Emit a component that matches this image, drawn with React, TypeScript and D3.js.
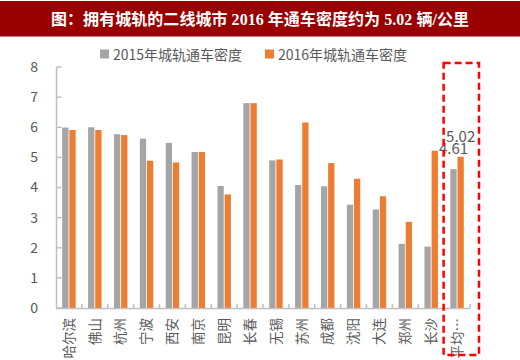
import React, { useEffect, useRef } from 'react';
import * as d3 from 'd3';

const cities = ['哈尔滨', '佛山', '杭州', '宁波', '西安', '南京', '昆明', '长春', '无锡', '苏州', '成都', '沈阳', '大连', '郑州', '长沙', '平均…'];
const density2015 = [5.99, 6.0, 5.77, 5.62, 5.48, 5.18, 4.05, 6.8, 4.9, 4.08, 4.04, 3.43, 3.27, 2.13, 2.04, 4.61];
const density2016 = [5.91, 5.91, 5.74, 4.89, 4.83, 5.18, 3.77, 6.8, 4.93, 6.16, 4.81, 4.29, 3.71, 2.86, 5.22, 5.02];
const seriesNames = ['2015年城轨通车密度', '2016年城轨通车密度'];
const seriesColors = ['#a5a5a5', '#ed7d31'];
const yTicks = [0, 1, 2, 3, 4, 5, 6, 7, 8];
const titleText = '图：拥有城轨的二线城市 2016 年通车密度约为 5.02 辆/公里';

const App = () => {
  const ref = useRef<SVGSVGElement>(null);

  useEffect(() => {
    const svg = d3.select(ref.current);
    svg.selectAll('*').remove();
    const font = '"Noto Sans CJK SC", "Open Sans", sans-serif';
    const textColor = '#595959';
    const axisColor = '#bfbfbf';

    // title bar
    svg.append('rect').attr('x', 0).attr('y', 1).attr('width', 520).attr('height', 35.5).attr('fill', '#990000');
    svg.append('text').attr('x', 260).attr('y', 24.5).attr('text-anchor', 'middle')
      .attr('fill', '#fff').attr('font-size', 16).attr('font-weight', 'bold')
      .attr('font-family', '"Liberation Serif", "Noto Sans CJK SC", serif')
      .attr('textLength', 418).attr('lengthAdjust', 'spacing')
      .text(titleText);

    const x = d3.scaleBand().domain(cities).range([56, 470]).padding(0);
    const y = d3.scaleLinear().domain([0, 8]).range([308, 67]);
    const bw = x.bandwidth();
    const xs = d3.scaleBand().domain(['0', '1']).range([bw * 0.24, bw * 0.76]).paddingInner(0.12);

    const rows = cities.map((c, i) => ({ city: c, vals: [density2015[i], density2016[i]] }));

    // bars
    const g = svg.append('g');
    rows.forEach(r => {
      r.vals.forEach((v, k) => {
        g.append('rect')
          .attr('x', x(r.city)! + xs(String(k))!)
          .attr('y', y(v))
          .attr('width', xs.bandwidth())
          .attr('height', y(0) - y(v))
          .attr('fill', seriesColors[k]);
      });
    });

    // y axis
    svg.append('line').attr('x1', 56.5).attr('x2', 56.5).attr('y1', y(8)).attr('y2', y(0))
      .attr('stroke', axisColor).attr('stroke-width', 1.5);
    yTicks.forEach(t => {
      svg.append('line').attr('x1', 56.5).attr('x2', 61.5).attr('y1', y(t)).attr('y2', y(t))
        .attr('stroke', axisColor).attr('stroke-width', 1.5);
      svg.append('text').attr('x', 38).attr('y', y(t)).attr('dy', '0.35em')
        .attr('text-anchor', 'end').attr('font-size', 14).attr('fill', textColor)
        .attr('font-family', font).text(t);
    });

    // x axis
    svg.append('line').attr('x1', 56).attr('x2', 470).attr('y1', 308.5).attr('y2', 308.5)
      .attr('stroke', axisColor).attr('stroke-width', 1.5);
    cities.forEach((c, i) => {
      const xx = x(c)! + bw;
      svg.append('line').attr('x1', xx).attr('x2', xx).attr('y1', 308.5).attr('y2', 304)
        .attr('stroke', axisColor).attr('stroke-width', 1.5);
      const cx = x(c)! + bw / 2;
      svg.append('text').attr('x', cx).attr('y', 318)
        .attr('transform', `rotate(-90, ${cx}, 318)`)
        .attr('text-anchor', 'end').attr('dy', '0.35em')
        .attr('font-size', 13.5).attr('fill', textColor).attr('font-family', font)
        .text(c);
    });

    // legend
    seriesNames.forEach((s, k) => {
      const lx = k === 0 ? 100 : 265;
      svg.append('rect').attr('x', lx).attr('y', 49.5).attr('width', 9).attr('height', 9).attr('fill', seriesColors[k]);
      svg.append('text').attr('x', lx + 13).attr('y', 59.5).attr('font-size', 14)
        .attr('fill', textColor).attr('font-family', font).text(s);
    });

    // labels for average
    const last = rows[rows.length - 1];
    last.vals.forEach((v, k) => {
      svg.append('text')
        .attr('x', x(last.city)! + xs(String(k))! + xs.bandwidth() / 2)
        .attr('y', y(v) - 15)
        .attr('text-anchor', 'middle').attr('font-size', 15).attr('fill', textColor)
        .attr('font-family', font).text(v.toFixed(2));
    });

    // red dashed highlight box
    const bx = x(last.city)! - 0.5;
    svg.append('rect').attr('x', bx).attr('y', 63).attr('width', bw + 9.5).attr('height', 292)
      .attr('fill', 'none').attr('stroke', '#ff0000').attr('stroke-width', 2.5)
      .attr('stroke-dasharray', '7,4');
  }, []);

  return (
    <svg ref={ref} width={520} height={360} style={{ position: 'absolute', left: 0, top: 0, background: '#fff' }} />
  );
};

export default App;
